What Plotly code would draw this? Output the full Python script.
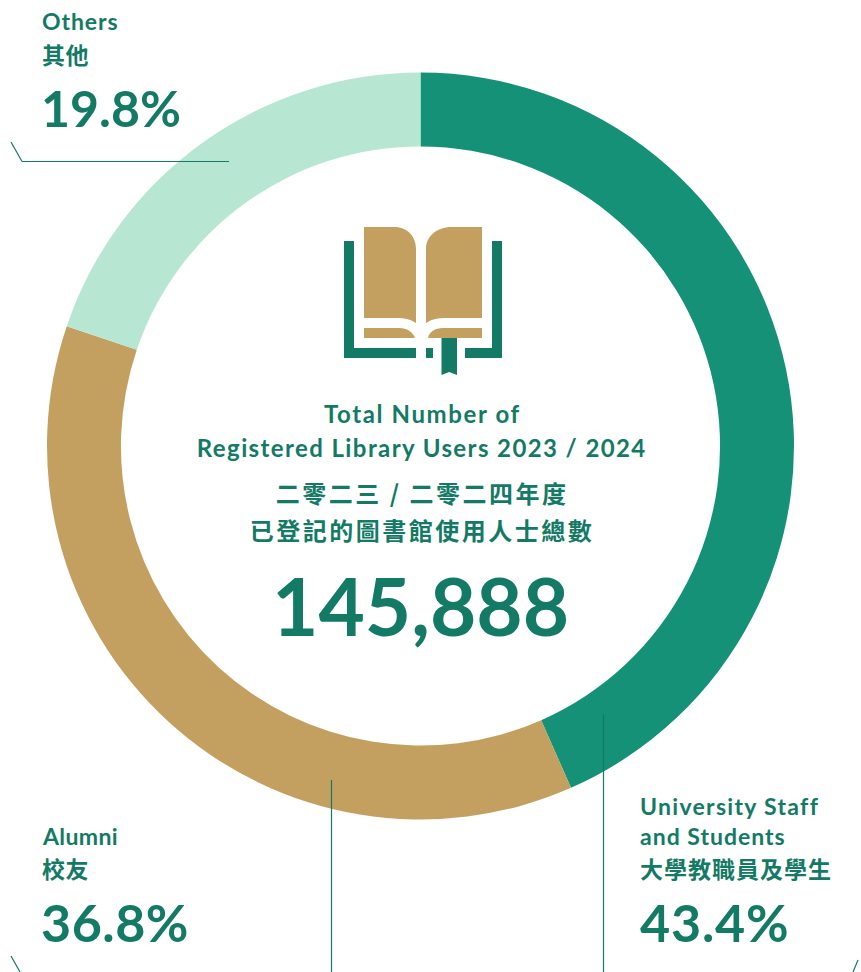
"""Donut of registered library users 2023/24, laid out in page pixels."""

import json

import plotly.graph_objects as go

W, H = 861, 972

GROUPS = ["University Staff and Students", "Alumni", "Others"]
SHARES = [43.4, 36.8, 19.8]
SLICE_COLORS = ["#159178", "#C3A060", "#B7E7D2"]

DARK = "#137A65"
TAN = "#C3A060"
LATIN = "Lato, 'Noto Sans CJK TC', sans-serif"
CJK = "'Noto Sans CJK TC', sans-serif"

# donut box in page pixels: left, right, top, bottom
DONUT_BOX = (47, 794, 72, 820)

# text, x, y, size, font, anchor, letter spacing
LABELS = [
    ("Others", 41, 21, 23, LATIN, "left", 0.9),
    ("其他", 41, 54, 23, CJK, "left", 0.5),
    ("19.8%", 40, 108, 50, LATIN, "left", 0),
    ("Alumni", 41, 836, 23, LATIN, "left", 0.4),
    ("校友", 41, 868, 23, CJK, "left", 0.5),
    ("36.8%", 40, 922, 52, LATIN, "left", 0.5),
    ("University Staff", 639, 806, 23, LATIN, "left", 1.3),
    ("and Students", 639, 836, 23, LATIN, "left", 1.0),
    ("大學教職員及學生", 639, 868, 23, CJK, "left", 1.0),
    ("43.4%", 639, 922, 52, LATIN, "left", 0.8),
    ("Total Number of", 422, 413, 24, LATIN, "center", 1.6),
    ("Registered Library Users 2023 / 2024", 422, 447, 24, LATIN, "center", 1.4),
    ("二零二三 / 二零二四年度", 422, 492, 24, CJK, "center", 2.5),
    ("已登記的圖書館使用人士總數", 422, 529, 24, CJK, "center", 2.5),
    ("145,888", 420, 605, 80, LATIN, "center", 0),
]

# leader lines as (x0, y0, x1, y1)
LEADERS = [
    (11, 142, 22, 161.5),
    (22, 161.5, 229, 161.5),
    (331.5, 780, 331.5, 972),
    (11, 956, 20, 972),
    (603.5, 714, 603.5, 972),
    (858, 960, 853, 972),
]

BOOK_PATHS = [
    ("M344,241 H354 V348 H416 V358 H344 Z", DARK),
    ("M426,348 H433 V358 H426 Z", DARK),
    ("M502,241 H492 V348 H465 V358 H502 Z", DARK),
    ("M441.5,338 H457 V375 L449.2,372 L441.5,375 Z", DARK),
    ("M364,227 H394 C408,227 416,237 416,249 V323 C410,319 404,318 398,318 H364 Z", TAN),
    ("M482,227 H452 C436,227 426,237 426,249 V323 C432,319 438,318 444,318 H482 Z", TAN),
    ("M364,328 H399 C407,328 413,332 415,338 H364 Z", TAN),
    ("M482,328 H443 C435,328 429,332 428,338 H482 Z", TAN),
]

fig = go.Figure()
fig.add_trace(go.Pie(
    labels=GROUPS, values=SHARES,
    hole=0.802, sort=False, direction="clockwise", rotation=0,
    marker=dict(colors=SLICE_COLORS, line=dict(width=0)),
    textinfo="none", showlegend=False,
    domain=dict(
        x=[DONUT_BOX[0] / W, DONUT_BOX[1] / W],
        y=[1 - DONUT_BOX[3] / H, 1 - DONUT_BOX[2] / H],
    ),
))

for path, color in BOOK_PATHS:
    fig.add_shape(type="path", path=path, fillcolor=color, line_width=0,
                  xref="x", yref="y", layer="above")

for x0, y0, x1, y1 in LEADERS:
    fig.add_shape(type="line", x0=x0, y0=y0, x1=x1, y1=y1,
                  xref="x", yref="y", layer="above",
                  line=dict(color=DARK, width=1.2))

for text, x, y, size, family, anchor, _ in LABELS:
    fig.add_annotation(
        text=text, x=x, y=y, xref="x", yref="y",
        xanchor=anchor, yanchor="middle", align=anchor, showarrow=False,
        borderpad=0,
        font=dict(family=family, size=size, color=DARK, weight=700),
    )

fig.update_layout(
    width=W, height=H,
    margin=dict(l=0, r=0, t=0, b=0),
    paper_bgcolor="#ffffff", plot_bgcolor="#ffffff",
    xaxis=dict(range=[0, W], visible=False, fixedrange=True),
    yaxis=dict(range=[H, 0], visible=False, fixedrange=True),
)

# plotly has no letter spacing option, and the page body margin would shift everything by 8px
spacing = json.dumps([row[6] for row in LABELS])
post = f"""
document.body.style.margin = '0';
var spacing = {spacing};
document.querySelectorAll('.annotation-text').forEach(function (t, i) {{
    t.style.letterSpacing = spacing[i] + 'px';
}});
"""
fig.write_html("out.html", post_script=post, config=dict(displayModeBar=False))
